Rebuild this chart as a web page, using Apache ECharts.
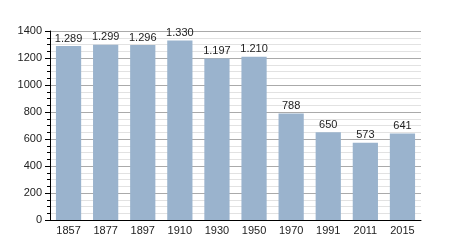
<!DOCTYPE html>
<html><head><meta charset="utf-8">
<script src="https://cdn.jsdelivr.net/npm/echarts@6/dist/echarts.min.js"></script>
<style>html,body{margin:0;padding:0;background:#fff}#c{width:450px;height:250px}</style>
</head><body><div id="c"></div>
<script>
const years = ['1857','1877','1897','1910','1930','1950','1970','1991','2011','2015'];
const population = [1289,1299,1296,1330,1197,1210,788,650,573,641];
const yTicks = [0,200,400,600,800,1000,1200,1400];

const fmt = v => v >= 1000 ? Math.floor(v/1000) + '.' + String(v%1000).padStart(3,'0') : String(v);
const chart = echarts.init(document.getElementById('c'), null, {renderer:'canvas'});
chart.setOption({
  animation:false,
  grid:{left:50,right:29,top:31,bottom:30},
  xAxis:{type:'category',data:years,
    axisLine:{lineStyle:{color:'#000',width:1}},
    axisTick:{show:false},
    axisLabel:{color:'#222',fontSize:11,fontFamily:'Liberation Sans, Arial, sans-serif',margin:5}},
  yAxis:{type:'value',min:0,max:1400,interval:200,
    axisLine:{show:true,lineStyle:{color:'#000'}},
    axisTick:{show:true,inside:false,length:5,lineStyle:{color:'#000'}},
    minorTick:{show:true,splitNumber:4,length:3,lineStyle:{color:'#000'}},
    splitLine:{lineStyle:{color:'#aaa',width:1}},
    minorSplitLine:{show:true,lineStyle:{color:'#e2e2e2',width:1}},
    axisLabel:{color:'#222',fontSize:11,fontFamily:'Liberation Sans, Arial, sans-serif',margin:8,
      formatter:v=>yTicks.includes(v)?String(v):''}},
  series:[{type:'bar',data:population,barWidth:'68%',
    itemStyle:{color:'#9ab3cd'},
    label:{show:true,position:'top',distance:2,color:'#222',fontSize:11,
      fontFamily:'Liberation Sans, Arial, sans-serif',formatter:p=>fmt(p.value)}}]
});
</script></body></html>
